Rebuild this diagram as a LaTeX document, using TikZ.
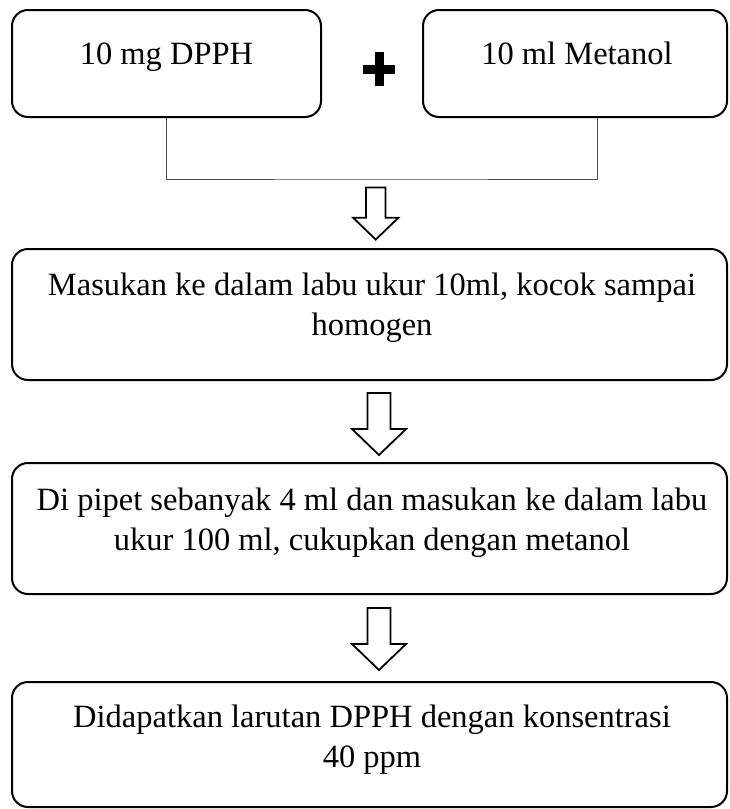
\documentclass[tikz,border=0pt]{standalone}
\usepackage{fontspec}
\setmainfont{Liberation Serif}
\usetikzlibrary{calc}

\tikzset{
  kotak/.style={draw, line width=2pt, rounded corners=16pt, inner sep=0pt},
  teks/.style={font=\fontsize{32.5}{39.5}\selectfont, align=center, anchor=base, inner sep=0pt},
  garis/.style={line width=0.8pt, black!70},
  panah/.pic={
    \draw[line width=1.8pt, fill=white] (-11.5,-31) -- (11.5,-31) -- (11.5,5) -- (27,5)
      -- (0,31) -- (-27,5) -- (-11.5,5) -- cycle;
  }
}

\begin{document}
\begin{tikzpicture}[x=1pt, y=-1pt]
\useasboundingbox (0,0) rectangle (729,809);
% bahan awal
\node[kotak, minimum width=309, minimum height=107] (dpph) at (166.5,63.5){};
\node[teks] (dpphteks) at (166.5,64){10 mg DPPH};
\node[kotak, minimum width=304, minimum height=107] (metanol) at (575,63.5){};
\node[teks] (metanolteks) at (577,64){10 ml Metanol};
\draw[line width=9pt] (363,69) -- (395,69) (379,52) -- (379,86);
\coordinate (temu) at (380,179);
\draw[garis] (dpph.south) |- (temu) -| ($(metanol.south)+(22,0)$);
% langkah
\node[kotak, minimum width=715, minimum height=131] (masuk) at (369.5,314.5){};
\node[teks] (masukteks) at (372,335){Masukan ke dalam labu ukur 10ml, kocok sampai\\homogen};
\node[kotak, minimum width=715, minimum height=131] (pipet) at (369.5,528.5){};
\node[teks] (pipetteks) at (372,550){Di pipet sebanyak 4 ml dan masukan ke dalam labu\\ukur 100 ml, cukupkan dengan metanol};
\node[kotak, minimum width=715, minimum height=125] (hasil) at (369.5,744.5){};
\node[teks] (hasilteks) at (372,767){Didapatkan larutan DPPH dengan konsentrasi\\40 ppm};
% panah
\pic[scale=0.84] at ($(temu)!0.5!(masuk.north)+(1,0)$) {panah};
\pic at ($(masuk.south)!0.5!(pipet.north)+(9.5,2.5)$) {panah};
\pic at ($(pipet.south)!0.5!(hasil.north)+(9.5,1)$) {panah};
\end{tikzpicture}
\end{document}
